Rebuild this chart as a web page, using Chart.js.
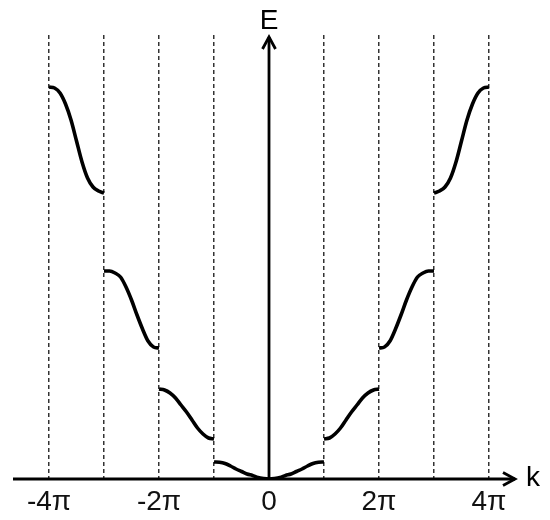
<!DOCTYPE html>
<html>
<head>
<meta charset="utf-8">
<script src="https://cdn.jsdelivr.net/npm/chart.js@4"></script>
<style>
  html, body { margin: 0; padding: 0; background: #fff; }
  #wrap { width: 550px; height: 520px; }
</style>
</head>
<body>
<div id="wrap"><canvas id="bandChart"></canvas></div>
<script>
// k is measured in units of pi; steps are offsets inside one zone
const zoneSteps = [0, 0.1, 0.2, 0.3, 0.4, 0.5, 0.6, 0.7, 0.8, 0.9, 1];

// energy, |k| going outward through each zone
const band1E = [0, 0.005, 0.015, 0.035, 0.05, 0.075, 0.10, 0.13, 0.155, 0.167, 0.17];
const band2E = [0.40, 0.41, 0.45, 0.51, 0.59, 0.67, 0.74, 0.81, 0.86, 0.89, 0.90];
const band3E = [1.31, 1.32, 1.38, 1.50, 1.64, 1.79, 1.92, 2.02, 2.06, 2.08, 2.08];
const band4E = [2.86, 2.88, 2.92, 3.01, 3.17, 3.38, 3.59, 3.75, 3.86, 3.91, 3.92];

const kTicks = [-4, -3, -2, -1, 0, 1, 2, 3, 4];
const kTickLabels = { '-4': '-4\u03c0', '-2': '-2\u03c0', '0': '0', '2': '2\u03c0', '4': '4\u03c0' };

const kMin = -4.655, kMax = 4.473, eMax = 4.44;
const FONT = '"Liberation Sans", Arial, sans-serif';

function lineStyle(points) {
  return {
    data: points,
    borderColor: '#000',
    borderWidth: 3.6,
    pointRadius: 0,
    fill: false,
    cubicInterpolationMode: 'monotone'
  };
}

// build the left/right branches of each band
const datasets = [];
const bands = [band1E, band2E, band3E, band4E];
bands.forEach((vals, i) => {
  const right = zoneSteps.map((u, j) => ({ x: i + u, y: vals[j] }));
  const left = right.map(p => ({ x: -p.x, y: p.y })).reverse();
  if (i === 0) {
    datasets.push(lineStyle(left.concat(right.slice(1))));
  } else {
    datasets.push(lineStyle(left));
    datasets.push(lineStyle(right));
  }
});

function arrowHead(ctx, tx, ty, dx, dy) {
  // open chevron pointing in direction (dx, dy)
  const len = 12, wid = 6.5;
  const px = -dy, py = dx;
  ctx.beginPath();
  ctx.moveTo(tx - dx * len + px * wid, ty - dy * len + py * wid);
  ctx.lineTo(tx, ty);
  ctx.lineTo(tx - dx * len - px * wid, ty - dy * len - py * wid);
  ctx.stroke();
}

const axesPlugin = {
  id: 'axesPlugin',
  afterDatasetsDraw(chart) {
    const { ctx, chartArea, scales } = chart;
    const x0 = scales.x.getPixelForValue(0);
    const y0 = scales.y.getPixelForValue(0);
    ctx.save();
    ctx.strokeStyle = '#000';
    ctx.lineWidth = 2.8;
    ctx.lineJoin = 'miter';
    // k axis
    ctx.beginPath();
    ctx.moveTo(chartArea.left, y0);
    ctx.lineTo(chartArea.right, y0);
    ctx.stroke();
    arrowHead(ctx, chartArea.right, y0, 1, 0);
    // E axis
    ctx.beginPath();
    ctx.moveTo(x0, y0);
    ctx.lineTo(x0, chartArea.top + 2);
    ctx.stroke();
    arrowHead(ctx, x0, chartArea.top + 2, 0, -1);

    ctx.fillStyle = '#000';
    ctx.font = '28px ' + FONT;
    ctx.textAlign = 'center';
    ctx.textBaseline = 'middle';
    ctx.fillText('E', x0, chartArea.top - 14);
    ctx.textAlign = 'left';
    ctx.fillText('k', chartArea.right + 11, y0 - 1);
    ctx.restore();
  }
};

new Chart(document.getElementById('bandChart'), {
  type: 'line',
  data: { datasets: datasets },
  options: {
    responsive: true,
    maintainAspectRatio: false,
    animation: false,
    layout: { padding: { left: 13, right: 35, top: 35, bottom: 0 } },
    plugins: { legend: { display: false }, tooltip: { enabled: false } },
    scales: {
      x: {
        type: 'linear',
        min: kMin,
        max: kMax,
        afterBuildTicks(scale) {
          scale.ticks = kTicks.map(v => ({ value: v }));
        },
        afterFit(scale) {
          scale.height = 41;
        },
        grid: {
          drawTicks: false,
          lineWidth: 1.5,
          color: c => (c.tick && c.tick.value === 0) ? 'rgba(0,0,0,0)' : '#333',
          borderDash: [4, 3]
        },
        border: { display: false, dash: [4, 3] },
        ticks: {
          padding: 6,
          color: '#111',
          font: { family: FONT, size: 28 },
          maxRotation: 0,
          autoSkip: false,
          callback: v => kTickLabels[String(v)] || ''
        }
      },
      y: {
        type: 'linear',
        display: false,
        min: 0,
        max: eMax
      }
    }
  },
  plugins: [axesPlugin]
});
</script>
</body>
</html>
